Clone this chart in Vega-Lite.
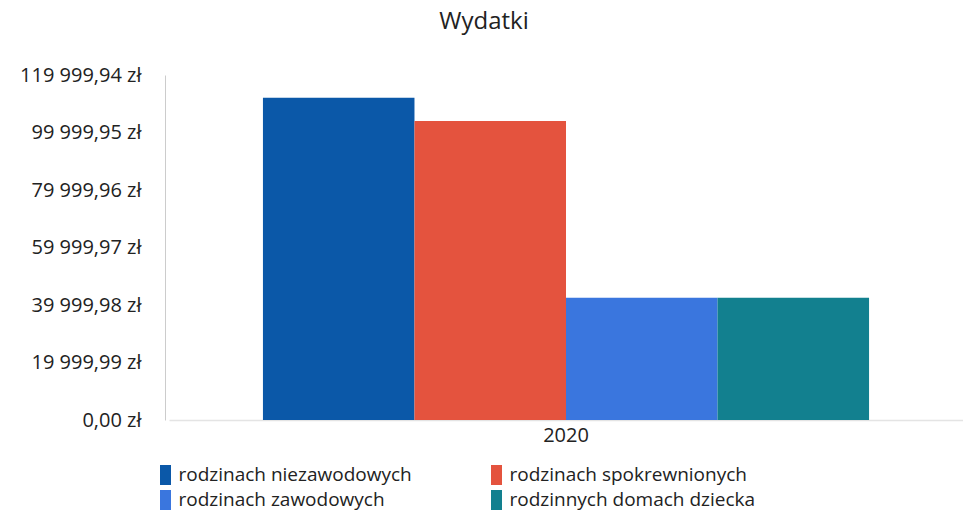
{
  "$schema": "https://vega.github.io/schema/vega-lite/v6.json",
  "width": 794,
  "height": 345,
  "autosize": {"type": "none"},
  "padding": {"left": 169, "top": 75, "right": 0, "bottom": 97},
  "background": "white",
  "config": {
    "locale": {"number": {"decimal": ",", "thousands": " ", "grouping": [3], "currency": ["", " zł"]}},
    "font": "Open Sans",
    "view": {"stroke": null}
  },
  "title": {
    "text": "Wydatki",
    "font": "Open Sans",
    "fontSize": 24,
    "fontWeight": "normal",
    "color": "#222222",
    "anchor": "middle",
    "dx": -82,
    "offset": 31
  },
  "data": {
    "values": [
      {"rok": "2020", "kategoria": "rodzinach niezawodowych", "kwota": 112100},
      {"rok": "2020", "kategoria": "rodzinach spokrewnionych", "kwota": 104000},
      {"rok": "2020", "kategoria": "rodzinach zawodowych", "kwota": 42540},
      {"rok": "2020", "kategoria": "rodzinnych domach dziecka", "kwota": 42540}
    ]
  },
  "mark": {"type": "bar"},
  "encoding": {
    "x": {
      "field": "rok",
      "type": "nominal",
      "scale": {"paddingOuter": 0.155, "paddingInner": 0},
      "axis": {
        "title": null,
        "labelAngle": 0,
        "labelFontSize": 20,
        "labelColor": "#222222",
        "labelPadding": 5,
        "ticks": false,
        "domainColor": "#e4e4e4",
        "domainWidth": 1.5
      }
    },
    "xOffset": {
      "field": "kategoria",
      "type": "nominal",
      "sort": ["rodzinach niezawodowych", "rodzinach spokrewnionych", "rodzinach zawodowych", "rodzinnych domach dziecka"],
      "scale": {"paddingInner": 0, "paddingOuter": 0}
    },
    "y": {
      "field": "kwota",
      "type": "quantitative",
      "scale": {"domain": [0, 119999.94], "nice": false, "zero": true},
      "axis": {
        "title": null,
        "values": [0, 19999.99, 39999.98, 59999.97, 79999.96, 99999.95, 119999.94],
        "format": "$,.2f",
        "grid": false,
        "ticks": false,
        "offset": 4,
        "labelFontSize": 20,
        "labelColor": "#222222",
        "labelPadding": 24,
        "domainColor": "#cccccc"
      }
    },
    "color": {
      "field": "kategoria",
      "type": "nominal",
      "sort": ["rodzinach niezawodowych", "rodzinach spokrewnionych", "rodzinach zawodowych", "rodzinnych domach dziecka"],
      "scale": {
        "domain": ["rodzinach niezawodowych", "rodzinach spokrewnionych", "rodzinach zawodowych", "rodzinnych domach dziecka"],
        "range": ["#0b58a8", "#e4533e", "#3a76de", "#12808f"]
      },
      "legend": {
        "title": null,
        "orient": "none",
        "legendX": -13.5,
        "legendY": 390,
        "direction": "horizontal",
        "columns": 2,
        "columnPadding": 74,
        "rowPadding": 5,
        "padding": 0,
        "symbolType": "M-0.55,-1H0.55V1H-0.55Z",
        "symbolSize": 400,
        "symbolStrokeWidth": 0,
        "symbolOpacity": 1,
        "labelFontSize": 19,
        "labelColor": "#222222",
        "labelOffset": 3,
        "labelLimit": 400
      }
    }
  }
}
